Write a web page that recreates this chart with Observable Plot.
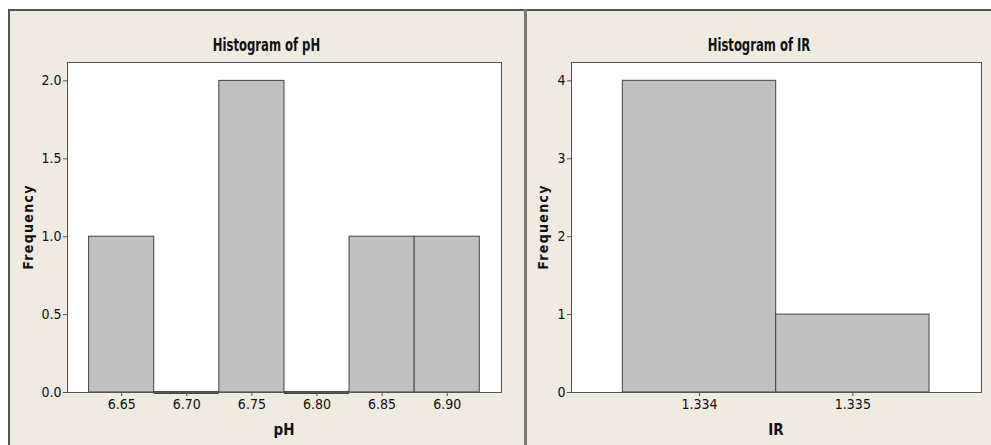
<!DOCTYPE html>
<html>
<head>
<meta charset="utf-8">
<script src="https://cdn.jsdelivr.net/npm/d3@7"></script>
<script src="https://cdn.jsdelivr.net/npm/@observablehq/plot@0.6"></script>
<style>
  html, body { margin: 0; padding: 0; background: #ffffff; }
  #root { position: relative; width: 991px; height: 445px; overflow: hidden; background: #ffffff;
          font-family: "DejaVu Sans Condensed", "Liberation Sans Narrow", sans-serif; }
  .panel { position: absolute; top: 10px; height: 435px; background: #EFEBE1; }
  .panel svg { position: absolute; left: 0; top: 0; background: transparent; }
  .title { position: absolute; left: 0; width: 100%; top: 27px; text-align: center;
           font-weight: bold; font-size: 17px; color: #111; line-height: 1;
           transform: scaleX(0.76); }
  .xlab { position: absolute; top: 413px; text-align: center; font-weight: bold; font-size: 15px;
          color: #111; line-height: 1; }
  .ylab { position: absolute; font-weight: bold; font-size: 14px; letter-spacing: 1.3px; color: #111;
          line-height: 1; transform: translate(-50%, -50%) rotate(-90deg); white-space: nowrap; }
  .line { position: absolute; background: #555; }
</style>
</head>
<body>
<div id="root"></div>
<script>
// ---- Data ----
// pH histogram: bin midpoints and counts (bin width 0.05)
const phBinMids = [6.65, 6.70, 6.75, 6.80, 6.85, 6.90];
const phCounts  = [1, 0, 2, 0, 1, 1];
const phBinWidth = 0.05;
const phYTicks = [0, 0.5, 1.0, 1.5, 2.0];
const phXTicks = [6.65, 6.70, 6.75, 6.80, 6.85, 6.90];

// IR histogram: bin midpoints and counts (bin width 0.001)
const irBinMids = [1.334, 1.335];
const irCounts  = [4, 1];
const irBinWidth = 0.001;
const irYTicks = [0, 1, 2, 3, 4];
const irXTicks = [1.334, 1.335];

const titles = ["Histogram of pH", "Histogram of IR"];
const xLabels = ["pH", "IR"];
const yLabel = "Frequency";

function toBins(mids, counts, w) {
  return mids.map((m, i) => ({x1: m - w / 2, x2: m + w / 2, count: counts[i]}));
}

const FONT = '"DejaVu Sans Condensed", "Liberation Sans Narrow", sans-serif';

function makeHist({bins, xDomain, yDomain, xTicks, yTicks, xFormat, yFormat, width, height, margins}) {
  const nonzero = bins.filter(d => d.count > 0);
  const zero = bins.filter(d => d.count === 0);
  return Plot.plot({
    width, height,
    marginLeft: margins[0], marginRight: margins[1], marginTop: margins[2], marginBottom: margins[3],
    style: {background: "transparent", fontFamily: FONT, fontSize: "14px", color: "#111"},
    x: {domain: xDomain},
    y: {domain: yDomain},
    marks: [
      Plot.frame({fill: "white", stroke: "none"}),
      Plot.rectY(nonzero, {x1: "x1", x2: "x2", y: "count", fill: "#C0C0C0", stroke: "#444", strokeWidth: 1}),
      Plot.ruleY(zero, {x1: "x1", x2: "x2", y: 0, stroke: "#111", strokeWidth: 2.5}),
      Plot.frame({stroke: "#555", strokeWidth: 1}),
      Plot.axisX({ticks: xTicks, tickFormat: xFormat, tickSize: 4, tickPadding: 3, label: null,
                  stroke: "#555", fill: "#111", fontSize: 14}),
      Plot.axisY({ticks: yTicks, tickFormat: yFormat, tickSize: 4, tickPadding: 2, label: null,
                  stroke: "#555", fill: "#111", fontSize: 14})
    ]
  });
}

const root = document.getElementById("root");

function line(l, t, w, h, c) {
  const d = document.createElement("div");
  d.className = "line";
  d.style.left = l + "px"; d.style.top = t + "px"; d.style.width = w + "px"; d.style.height = h + "px";
  if (c) d.style.background = c;
  root.appendChild(d);
}

function panel(left, width, chart, title, xlab, frameL, frameR) {
  const p = document.createElement("div");
  p.className = "panel";
  p.style.left = left + "px";
  p.style.width = width + "px";
  p.appendChild(chart);
  const t = document.createElement("div");
  t.className = "title"; t.textContent = title; p.appendChild(t);
  const xl = document.createElement("div");
  xl.className = "xlab"; xl.textContent = xlab;
  xl.style.left = frameL + "px"; xl.style.width = (frameR - frameL) + "px";
  p.appendChild(xl);
  root.appendChild(p);
  return p;
}

// Left panel
const leftChart = makeHist({
  bins: toBins(phBinMids, phCounts, phBinWidth),
  xDomain: [6.6084, 6.9417], yDomain: [0, 2.118],
  xTicks: phXTicks, yTicks: phYTicks,
  xFormat: d3.format(".2f"), yFormat: d3.format(".1f"),
  width: 515, height: 435, margins: [58, 23, 52, 53]
});
const lp = panel(9, 515, leftChart, titles[0], xLabels[0], 58, 492);
const ly = document.createElement("div");
ly.className = "ylab"; ly.textContent = yLabel;
ly.style.left = "19px"; ly.style.top = "217px";
lp.appendChild(ly);

// Right panel
const rightChart = makeHist({
  bins: toBins(irBinMids, irCounts, irBinWidth),
  xDomain: [1.333165, 1.335839], yDomain: [0, 4.235],
  xTicks: irXTicks, yTicks: irYTicks,
  xFormat: d3.format(".3f"), yFormat: d3.format("d"),
  width: 464, height: 435, margins: [44, 10, 52, 53]
});
const rp = panel(527, 464, rightChart, titles[1], xLabels[1], 44, 454);
const ry = document.createElement("div");
ry.className = "ylab"; ry.textContent = yLabel;
ry.style.left = "16px"; ry.style.top = "217px";
rp.appendChild(ry);

// outer border lines and divider
line(8, 9, 983, 1.5, "#555");
line(8, 9, 1.5, 436, "#555");
line(524, 9, 2.5, 436, "#7a7a7a");
</script>
</body>
</html>
